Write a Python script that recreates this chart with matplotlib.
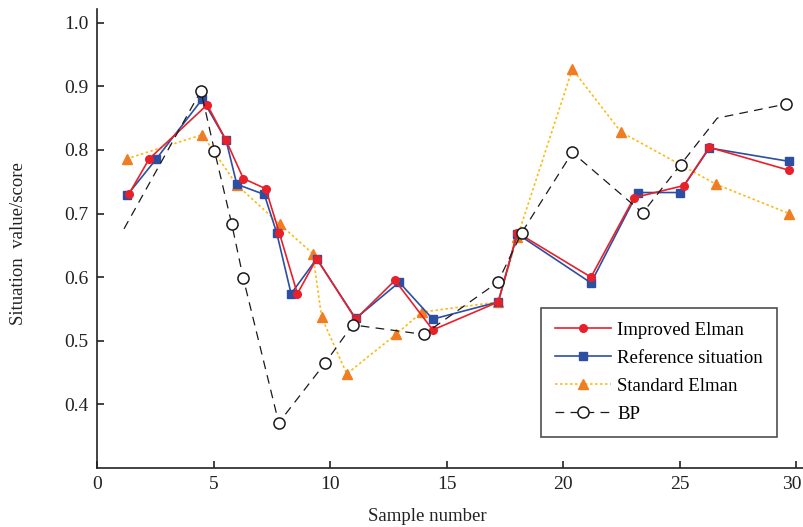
import matplotlib
matplotlib.use('Agg')
import matplotlib.pyplot as plt
import matplotlib.transforms as mtransforms
import numpy as np

plt.rcParams['font.family'] = ['Liberation Serif', 'DejaVu Serif']
plt.rcParams['mathtext.fontset'] = 'stix'

# Improved Elman
x_imp = [1.36, 2.24, 4.73, 5.54, 6.28, 7.24, 7.83, 8.6, 9.43, 11.1, 12.79, 14.41, 17.22, 18.04, 21.2, 23.05, 25.19, 26.28, 29.7]
y_imp = [0.730, 0.786, 0.871, 0.815, 0.755, 0.739, 0.669, 0.574, 0.629, 0.534, 0.595, 0.517, 0.561, 0.670, 0.600, 0.725, 0.744, 0.804, 0.768]

# Reference situation
x_ref = [1.3, 2.55, 4.52, 5.54, 6.0, 7.18, 7.71, 8.33, 9.43, 11.1, 12.97, 14.41, 17.22, 18.04, 21.2, 23.2, 25.0, 26.28, 29.7]
y_ref = [0.729, 0.786, 0.880, 0.815, 0.746, 0.730, 0.670, 0.574, 0.629, 0.535, 0.592, 0.534, 0.561, 0.668, 0.591, 0.733, 0.733, 0.803, 0.782]

# Standard Elman
x_std = [1.27, 4.52, 6.0, 7.85, 9.26, 9.64, 10.72, 12.83, 13.94, 17.22, 18.04, 20.4, 22.49, 26.57, 29.7]
y_std = [0.786, 0.824, 0.745, 0.683, 0.637, 0.537, 0.448, 0.510, 0.545, 0.561, 0.663, 0.927, 0.828, 0.746, 0.700]

# BP
x_bp = [1.16, 4.46, 5.04, 5.78, 6.28, 7.8, 9.79, 10.97, 14.03, 17.2, 18.23, 20.4, 23.42, 25.05, 26.62, 29.56]
y_bp = [0.676, 0.893, 0.799, 0.684, 0.598, 0.371, 0.465, 0.525, 0.510, 0.592, 0.670, 0.796, 0.701, 0.777, 0.850, 0.872]
bp_marks = [1, 2, 3, 4, 5, 6, 7, 8, 9, 10, 11, 12, 13, 15]

fig = plt.figure(figsize=(8.04, 5.27), dpi=100)
ax = fig.add_axes([97/804, 1-468/527, 706/804, 459/527])

ax.plot(x_ref, y_ref, color='#2c4ea3', lw=1.2, marker='s', ms=5.5,
        label='Reference situation', zorder=3)
ax.plot(x_imp, y_imp, color='#e8202a', lw=1.2, marker='o', ms=5.5,
        label='Improved Elman', zorder=4)
ax.plot(x_std, y_std, color='#fbbb17', lw=1.2, ls=(0, (1.5, 1.5)), marker='^', ms=7.5,
        mfc='#f07d22', mec='#f07d22', label='Standard Elman', zorder=2)
ax.plot(x_bp, y_bp, color='#1a1a1a', lw=0.9, ls=(0, (7, 5)), marker='o', ms=8,
        mfc='white', mec='#1a1a1a', mew=1.1, markevery=bp_marks, label='BP', zorder=5)

ax.set_xlim(0, 30.3)
ax.set_ylim(0.3, 1.0215)
ax.set_xticks([0, 5, 10, 15, 20, 25, 30])
ax.set_yticks([0.4, 0.5, 0.6, 0.7, 0.8, 0.9, 1.0])
ax.set_yticklabels(['0.4', '0.5', '0.6', '0.7', '0.8', '0.9', '1.0'])
ax.spines['top'].set_visible(False)
ax.spines['right'].set_visible(False)
for s in ['left', 'bottom']:
    ax.spines[s].set_linewidth(1.2)
    ax.spines[s].set_color('#222222')
ax.tick_params(direction='in', length=5, width=1.2, labelsize=14, colors='#222222', pad=6)

# keep the last x tick label inside the figure
lab30 = ax.get_xticklabels()[-1]
lab30.set_transform(lab30.get_transform() + mtransforms.ScaledTranslation(-4/100, 0, fig.dpi_scale_trans))

ax.set_xlabel('Sample number', fontsize=13.5, color='#222222', va='bottom')
ax.xaxis.set_label_coords(0.468, -0.124)
ax.set_ylabel('Situation  value/score', fontsize=13.5, color='#222222')
ax.yaxis.set_label_coords(-0.099, 0.49)

handles, labels = ax.get_legend_handles_labels()
order = [1, 0, 2, 3]
leg = ax.legend([handles[i] for i in order], [labels[i] for i in order],
                loc='lower right', bbox_to_anchor=(0.963, 0.0675), borderaxespad=0,
                fontsize=13.5, frameon=True, fancybox=False, edgecolor='#222222',
                handlelength=3.0, handletextpad=0.3, borderpad=0.75, labelspacing=0.58)
leg.get_frame().set_linewidth(1.2)

fig.savefig('out.png', dpi=100)
